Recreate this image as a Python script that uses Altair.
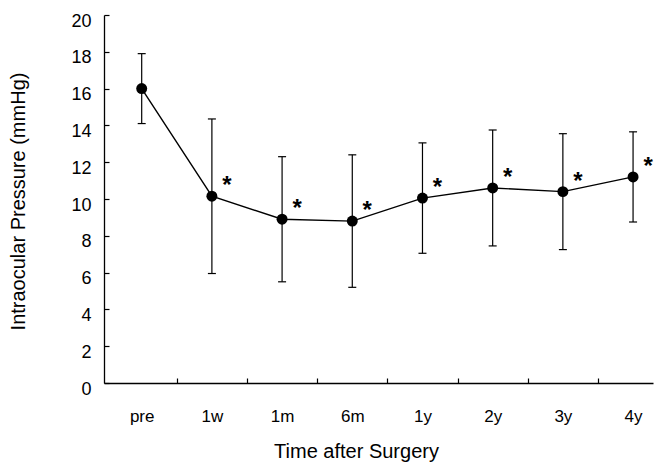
import json
import altair as alt
import pandas as pd

# ---- data ----
categories = ["pre", "1w", "1m", "6m", "1y", "2y", "3y", "4y"]
mean_iop = [16.0, 10.15, 8.9, 8.8, 10.05, 10.6, 10.4, 11.2]
sd_iop = [1.9, 4.2, 3.4, 3.6, 3.0, 3.15, 3.15, 2.45]
significant = [False, True, True, True, True, True, True, True]
y_ticks = list(range(0, 21, 2))

df = pd.DataFrame({
    "idx": list(range(len(categories))),
    "cat": categories,
    "mean": mean_iop,
    "sd": sd_iop,
})
df["lo"] = df["mean"] - df["sd"]
df["hi"] = df["mean"] + df["sd"]
df["star"] = ["*" if s else "" for s in significant]

FONT = "Liberation Sans"
xscale = alt.Scale(domain=[-0.537, 7.284], nice=False, zero=False)
yscale = alt.Scale(domain=[0, 20], nice=False, zero=True)

label_expr = "datum.value % 1 === 0 ? " + json.dumps(categories) + "[datum.value] : ''"

x_axis_main = alt.Axis(
    orient="bottom", values=list(range(len(categories))), ticks=False, tickSize=0,
    domain=True, domainColor="black", domainWidth=1.3, grid=False,
    labelExpr=label_expr, labelFont=FONT, labelFontSize=17, labelColor="black",
    labelPadding=25, title="Time after Surgery", titleFont=FONT, titleFontSize=20,
    titleFontWeight="normal", titleColor="black", titleX=252, titleY=74,
    titleBaseline="alphabetic", titleAlign="center",
)
x_axis_ticks = alt.Axis(
    orient="bottom", values=[i + 0.5 for i in range(len(categories) - 1)], offset=-5,
    ticks=True, tickSize=5, tickColor="black", tickWidth=1.2, domain=False,
    labels=False, grid=False, title=None,
)
y_axis_main = alt.Axis(
    orient="left", values=y_ticks, ticks=False, tickSize=0, domain=True,
    domainColor="black", domainWidth=1.3, grid=False, labelFont=FONT,
    labelFontSize=18, labelColor="black", labelPadding=13, labelOffset=6,
    title="Intraocular Pressure (mmHg)", titleFont=FONT, titleFontSize=20,
    titleFontWeight="normal", titleColor="black", titleX=-86, titleY=186,
    titleBaseline="middle", titleAlign="center", titleAngle=270,
)
y_axis_ticks = alt.Axis(
    orient="left", values=y_ticks, offset=-5, ticks=True, tickSize=5,
    tickColor="black", tickWidth=1.2, domain=False, labels=False, grid=False,
    title=None,
)

base = alt.Chart(df)

bars = base.mark_rule(color="black", strokeWidth=1.2).encode(
    x=alt.X("idx:Q", scale=xscale, axis=x_axis_main),
    y=alt.Y("lo:Q", scale=yscale, axis=y_axis_main),
    y2="hi:Q",
)
line = base.mark_line(color="black", strokeWidth=1.4).encode(
    x=alt.X("idx:Q", scale=xscale, axis=x_axis_ticks),
    y=alt.Y("mean:Q", scale=yscale, axis=y_axis_ticks),
)
cap_hi = base.mark_tick(orient="horizontal", size=8, thickness=1.2, color="black", opacity=1).encode(
    x=alt.X("idx:Q", scale=xscale, axis=None),
    y=alt.Y("hi:Q", scale=yscale, axis=None),
)
cap_lo = base.mark_tick(orient="horizontal", size=8, thickness=1.2, color="black", opacity=1).encode(
    x=alt.X("idx:Q", scale=xscale, axis=None),
    y=alt.Y("lo:Q", scale=yscale, axis=None),
)
points = base.mark_circle(size=120, color="black", opacity=1).encode(
    x=alt.X("idx:Q", scale=xscale, axis=None),
    y=alt.Y("mean:Q", scale=yscale, axis=None),
)
stars = base.mark_text(
    dx=15, dy=-10, fontSize=24, fontWeight="bold", font=FONT, color="black",
    baseline="middle", align="center"
).encode(
    x=alt.X("idx:Q", scale=xscale, axis=None),
    y=alt.Y("mean:Q", scale=yscale, axis=None),
    text="star:N",
)

chart = (
    alt.layer(bars, line, cap_hi, cap_lo, points, stars)
    .resolve_axis(x="independent", y="independent")
    .properties(
        width=549,
        height=368,
        autosize=alt.AutoSizeParams(type="none"),
        padding={"left": 96, "top": 7, "right": 4, "bottom": 79},
        background="white",
    )
    .configure_view(stroke=None)
)

chart.save("out.html", embed_options={"renderer": "svg", "actions": False})
